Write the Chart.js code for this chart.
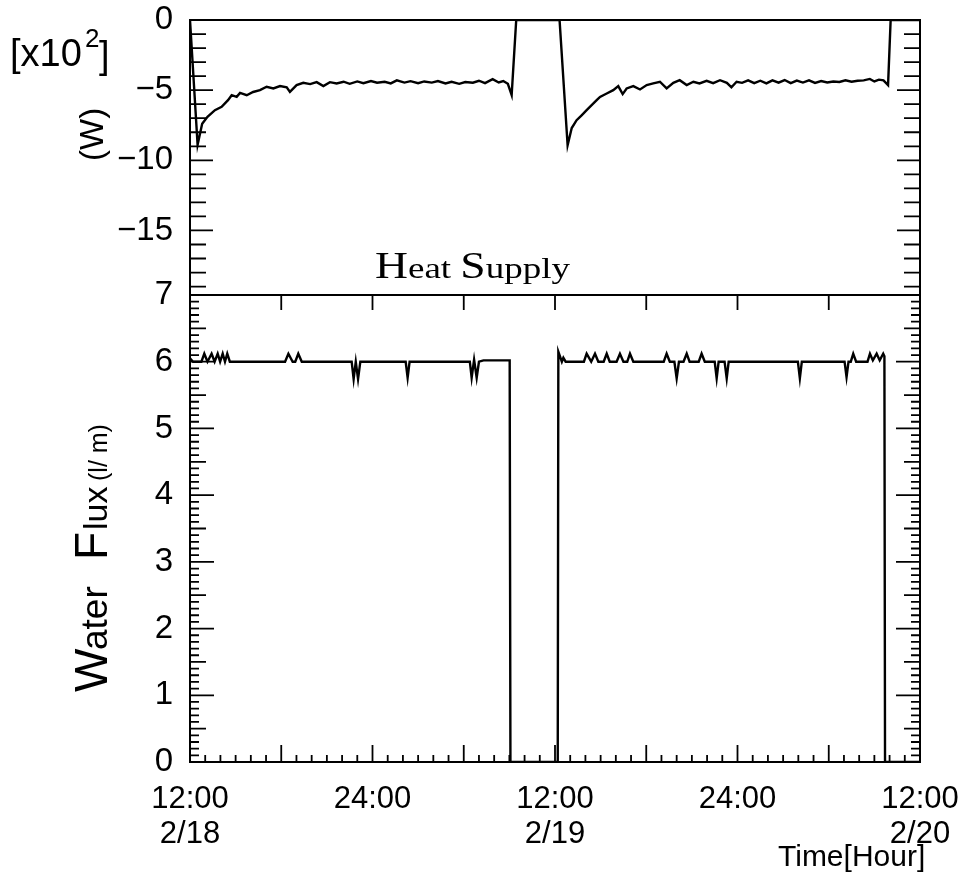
<!DOCTYPE html>
<html>
<head>
<meta charset="utf-8">
<script src="https://cdn.jsdelivr.net/npm/chart.js@4/dist/chart.umd.min.js"></script>
<style>
  html, body { margin: 0; padding: 0; background: #fff; }
  #wrap { position: relative; width: 970px; height: 878px; }
  canvas { position: absolute; left: 0; top: 0; }
</style>
</head>
<body>
<div id="wrap">
  <canvas id="flux" width="970" height="878"></canvas>
  <canvas id="heat" width="970" height="300"></canvas>
</div>
<script>
// hours after 12:00 on 2/18
const heatHours = [0, 0.5, 0.8, 1.15, 1.64, 2.08, 2.5, 2.74, 3.07, 3.29, 3.73, 4.15, 4.6, 5.04, 5.48, 5.92, 6.36, 6.57, 7.01, 7.45,
  7.9, 8.33, 8.77, 9.2, 9.64, 10.1, 10.5, 11.0, 11.4, 11.9, 12.3, 12.8, 13.2, 13.6, 14.1, 14.5, 15.0, 15.4, 15.9, 16.3,
  16.8, 17.2, 17.7, 18.1, 18.6, 19.0, 19.4, 19.9, 20.3, 20.6, 20.9, 21.15, 21.45, 24.3, 24.83, 25.1, 25.42, 25.75, 26.08, 26.41,
  26.74, 26.96, 27.4, 27.83, 28.16, 28.45, 28.71, 29.15, 29.59, 30.03, 30.46, 30.9, 31.34, 31.78, 32.2, 32.66, 33.1, 33.5, 33.97, 34.4,
  34.85, 35.3, 35.6, 35.94, 36.3, 36.7, 37.1, 37.5, 37.9, 38.3, 38.7, 39.1, 39.5, 39.9, 40.3, 40.7, 41.1, 41.5, 41.9, 42.3,
  42.7, 43.1, 43.5, 43.9, 44.3, 44.7, 45.0, 45.3, 45.6, 45.9, 46.07, 48];
// heat supply, x10^2 W
const heatValues = [0, -8.9, -7.4, -6.9, -6.43, -6.19, -5.71, -5.36, -5.48, -5.2, -5.36, -5.13, -5.0, -4.76, -4.88, -4.71, -4.8, -5.12, -4.64, -4.48,
  -4.57, -4.43, -4.71, -4.43, -4.52, -4.4, -4.55, -4.38, -4.5, -4.35, -4.47, -4.4, -4.52, -4.3, -4.46, -4.36, -4.5, -4.38, -4.46, -4.35,
  -4.52, -4.4, -4.55, -4.42, -4.47, -4.33, -4.5, -4.22, -4.45, -4.35, -4.55, -5.35, 0, 0, -8.93, -7.7, -7.14, -6.79, -6.43, -6.07,
  -5.71, -5.48, -5.24, -5.0, -4.71, -5.28, -4.88, -4.71, -4.95, -4.64, -4.52, -4.4, -4.88, -4.48, -4.29, -4.64, -4.4, -4.52, -4.33, -4.5,
  -4.29, -4.48, -4.8, -4.4, -4.48, -4.3, -4.5, -4.33, -4.52, -4.3, -4.47, -4.28, -4.5, -4.32, -4.46, -4.3, -4.48, -4.35, -4.45, -4.38,
  -4.42, -4.3, -4.4, -4.33, -4.3, -4.2, -4.38, -4.25, -4.3, -4.64, 0, 0];

const fluxHours = [0, 0.2, 0.75, 0.94, 1.15, 1.42, 1.62, 1.82, 1.98, 2.15, 2.3, 2.45, 2.62, 6.25, 6.47, 6.75, 6.92, 7.12, 7.35,
  10.63, 10.76, 10.9, 11.05, 11.2, 14.18, 14.31, 14.44, 18.4, 18.52, 18.68, 18.85, 19.0, 19.3, 21.02, 21.07,
  24.18, 24.22, 24.45, 24.55, 24.7, 25.9, 26.08, 26.38, 26.63, 26.85, 27.2, 27.4, 27.6, 28.05, 28.27, 28.5, 28.75, 28.93, 29.15,
  31.15, 31.34, 31.55, 31.85, 32.0, 32.15, 32.45, 32.66, 32.85, 33.45, 33.64, 33.85, 34.5, 34.63, 34.76, 35.15, 35.29, 35.42,
  39.97, 40.1, 40.23, 43.04, 43.17, 43.3, 43.45, 43.61, 43.8, 44.55, 44.71, 44.9, 45.15, 45.35, 45.58, 45.66, 45.7, 48];
// water flux, l/min
const fluxValues = [6.05, 6.0, 6.0, 6.12, 6.0, 6.12, 6.0, 6.12, 6.0, 6.12, 6.0, 6.12, 6.0, 6.0, 6.12, 6.0, 6.0, 6.12, 6.0,
  6.0, 5.74, 6.0, 5.74, 6.0, 6.0, 5.76, 6.0, 6.0, 5.76, 6.03, 5.76, 6.0, 6.02, 6.02, 0,
  0, 6.15, 6.0, 6.06, 6.0, 6.0, 6.12, 6.0, 6.12, 6.0, 6.0, 6.12, 6.0, 6.0, 6.12, 6.0, 6.0, 6.12, 6.0,
  6.0, 6.12, 6.0, 6.0, 5.75, 6.0, 6.0, 6.12, 6.0, 6.0, 6.12, 6.0, 6.0, 5.75, 6.0, 6.0, 5.75, 6.0,
  6.0, 5.75, 6.0, 6.0, 5.77, 6.0, 6.0, 6.12, 6.0, 6.0, 6.12, 6.02, 6.12, 6.02, 6.12, 6.08, 0, 0];

const timeTicks = [0, 12, 24, 36, 48];
const timeLabels = [['12:00', '2/18'], ['24:00'], ['12:00', '2/19'], ['24:00'], ['12:00', '2/20']];
const heatTicks = [0, -5, -10, -15];
const fluxTicks = [0, 1, 2, 3, 4, 5, 6, 7];

const SANS = "'Liberation Sans', Arial, sans-serif";
const SERIF = "'Liberation Serif', 'Times New Roman', serif";

function toPoints(xs, ys) {
  return xs.map((x, i) => ({ x: x, y: ys[i] }));
}

// frame and inward ticks, drawn from the chart's own scales
function frame(cfg) {
  return {
    id: 'frame',
    afterDatasetsDraw(chart) {
      const ctx = chart.ctx;
      const a = chart.chartArea;
      const x = chart.scales.x, y = chart.scales.y;
      ctx.save();
      ctx.strokeStyle = '#000';
      ctx.lineWidth = 2;
      ctx.strokeRect(a.left, a.top, a.right - a.left, a.bottom - a.top);
      ctx.lineWidth = 1.8;
      ctx.beginPath();
      for (let i = cfg.yFrom; i <= cfg.yTo; i++) {
        const py = y.getPixelForValue(i * cfg.yStep);
        let len = cfg.yMinor;
        if (i % cfg.yMajorEvery === 0) len = cfg.yMajor;
        else if (cfg.yMidEvery && i % cfg.yMidEvery === 0) len = cfg.yMid;
        ctx.moveTo(a.left, py); ctx.lineTo(a.left + len, py);
        ctx.moveTo(a.right, py); ctx.lineTo(a.right - len, py);
      }
      if (cfg.xBottom) {
        for (let h = 0; h <= 48; h++) {
          const px = x.getPixelForValue(h);
          const len = h % 6 === 0 ? 17 : 7;
          ctx.moveTo(px, a.bottom); ctx.lineTo(px, a.bottom - len);
        }
        for (let h = 6; h < 48; h += 6) {
          const px = x.getPixelForValue(h);
          ctx.moveTo(px, a.top); ctx.lineTo(px, a.top + 15);
        }
      }
      ctx.stroke();
      ctx.restore();
    }
  };
}

function textAt(ctx, str, size, x, y, font) {
  ctx.font = size + 'px ' + (font || SANS);
  ctx.fillText(str, x, y);
  return ctx.measureText(str).width;
}

const heatTitles = {
  id: 'heatTitles',
  afterDraw(chart) {
    const ctx = chart.ctx;
    ctx.save();
    ctx.fillStyle = '#000';
    ctx.textBaseline = 'alphabetic';
    textAt(ctx, '[x10', 38, 10, 66);
    textAt(ctx, '2', 26, 85, 47);
    textAt(ctx, ']', 38, 99, 68);
    // (W), rotated
    ctx.save();
    ctx.translate(103, 161);
    ctx.rotate(-Math.PI / 2);
    textAt(ctx, '(W)', 33, 0, 0);
    ctx.restore();
    // Heat Supply
    ctx.save();
    const parts = [['H', 37], ['eat ', 30], ['S', 37], ['upply', 30]];
    let w = 0;
    parts.forEach(p => { ctx.font = p[1] + 'px ' + SERIF; w += ctx.measureText(p[0]).width; });
    ctx.translate(375, 278);
    ctx.scale(195 / w, 1);
    let cx = 0;
    parts.forEach(p => { cx += textAt(ctx, p[0], p[1], cx, 0, SERIF); });
    ctx.restore();
    ctx.restore();
  }
};

const fluxTitles = {
  id: 'fluxTitles',
  afterDraw(chart) {
    const ctx = chart.ctx;
    ctx.save();
    ctx.fillStyle = '#000';
    ctx.textBaseline = 'alphabetic';
    ctx.save();
    ctx.translate(107, 692);
    ctx.rotate(-Math.PI / 2);
    textAt(ctx, 'W', 46, 0, 0);
    textAt(ctx, 'ater', 37, 42, 0);
    textAt(ctx, 'F', 46, 132, 0);
    textAt(ctx, 'lux', 34, 162, 0);
    textAt(ctx, '(l/ m)', 25, 211, 0);
    ctx.restore();
    textAt(ctx, 'Time[Hour]', 30, 778, 866);
    ctx.restore();
  }
};

const yTickFont = { family: SANS, size: 33 };

new Chart(document.getElementById('heat'), {
  type: 'line',
  data: {
    datasets: [{
      data: toPoints(heatHours, heatValues),
      borderColor: '#000',
      borderWidth: 2.4,
      pointRadius: 0,
      tension: 0
    }]
  },
  options: {
    responsive: false,
    animation: false,
    devicePixelRatio: 1,
    layout: { padding: { left: 0, right: 50, top: 20, bottom: 5 } },
    plugins: { legend: { display: false }, tooltip: { enabled: false } },
    scales: {
      x: { type: 'linear', min: 0, max: 48, display: false },
      y: {
        min: -19.6,
        max: 0,
        afterFit(s) { s.width = 190; s.paddingTop = 0; s.paddingBottom = 0; },
        afterBuildTicks(s) { s.ticks = heatTicks.map(v => ({ value: v })); },
        grid: { display: false },
        border: { display: false },
        ticks: {
          color: '#000',
          padding: 9,
          font: yTickFont,
          callback: v => (v < 0 ? '\u2212' + Math.abs(v) : String(v))
        }
      }
    }
  },
  plugins: [frame({ yFrom: -19, yTo: 0, yStep: 1, yMajorEvery: 5, yMinor: 16, yMajor: 23 }), heatTitles]
});

new Chart(document.getElementById('flux'), {
  type: 'line',
  data: {
    datasets: [{
      data: toPoints(fluxHours, fluxValues),
      borderColor: '#000',
      borderWidth: 2.4,
      pointRadius: 0,
      tension: 0
    }]
  },
  options: {
    responsive: false,
    animation: false,
    devicePixelRatio: 1,
    layout: { padding: { left: 0, right: 50, top: 295, bottom: 0 } },
    plugins: { legend: { display: false }, tooltip: { enabled: false } },
    scales: {
      x: {
        type: 'linear',
        min: 0,
        max: 48,
        afterFit(s) { s.height = 116; s.paddingLeft = 0; s.paddingRight = 0; },
        afterBuildTicks(s) { s.ticks = timeTicks.map(v => ({ value: v })); },
        grid: { display: false },
        border: { display: false },
        ticks: {
          color: '#000',
          padding: 12,
          autoSkip: false,
          maxRotation: 0,
          font: { family: SANS, size: 31, lineHeight: 1.12 },
          callback: v => timeLabels[timeTicks.indexOf(v)]
        }
      },
      y: {
        min: 0,
        max: 7,
        afterFit(s) { s.width = 190; s.paddingTop = 0; s.paddingBottom = 0; },
        afterBuildTicks(s) { s.ticks = fluxTicks.map(v => ({ value: v })); },
        grid: { display: false },
        border: { display: false },
        ticks: { color: '#000', padding: 9, font: yTickFont }
      }
    }
  },
  plugins: [frame({ yFrom: 0, yTo: 70, yStep: 0.1, yMajorEvery: 10, yMidEvery: 5, yMinor: 9, yMid: 16, yMajor: 24, xBottom: true }), fluxTitles]
});
</script>
</body>
</html>
